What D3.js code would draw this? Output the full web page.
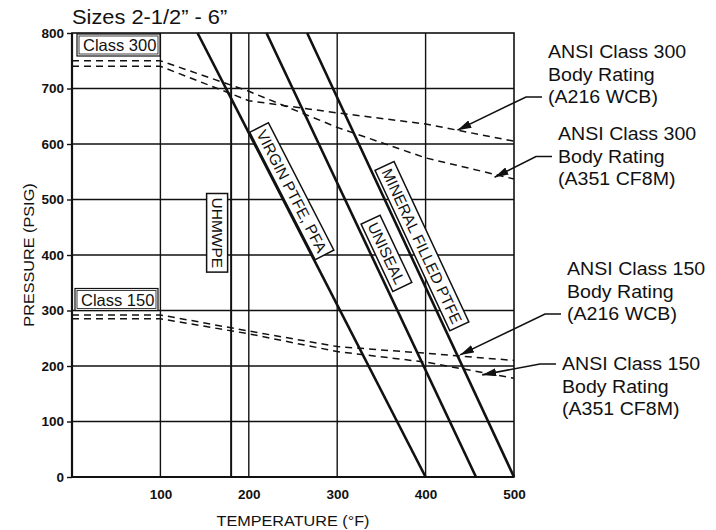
<!DOCTYPE html>
<html lang="en">
<head>
<meta charset="UTF-8">
<title>Sizes 2-1/2" - 6"</title>
<style>
  body { margin: 0; background: #fff; }
  svg { display: block; background: #fff; }
  text { font-family: "Liberation Sans", Arial, sans-serif; fill: #111; }
</style>
</head>
<body>
<div id="chart"></div>
<script src="https://cdn.jsdelivr.net/npm/d3@7/dist/d3.min.js"></script>
<script>
// temperature (°F) / pressure (psig)
var xTicks = [100, 200, 300, 400, 500];
var yTicks = [0, 100, 200, 300, 400, 500, 600, 700, 800];
var gridTemps = [100, 200, 300, 400];
var gridPress = [100, 200, 300, 400, 500, 600, 700];

// ANSI body ratings
var ratingTemps = [0, 100, 200, 300, 400, 500];
var class300WCB = [740, 740, 678, 656, 636, 605];
var class300CF8M = [750, 750, 695, 630, 575, 537];
var class150WCB = [292, 292, 263, 235, 223, 210];
var class150CF8M = [285, 285, 258, 226, 207, 178];

// seat ratings: temp at 800 psig -> temp at 0 psig
var seatNames = ["VIRGIN PTFE, PFA", "UNISEAL", "MINERAL FILLED PTFE"];
var seatTop = [142, 220, 266];
var seatBottom = [400, 457, 500];
var seatLabelPress = [515, 403, 416];
var uhmwpeTemp = 180;

// arrow tips [temp, psig]
var arrowTips = [[436, 625], [478, 540], [439, 220], [464, 184]];
var arrowTexts = [
    ["ANSI Class 300", "Body Rating", "(A216 WCB)"],
    ["ANSI Class 300", "Body Rating", "(A351 CF8M)"],
    ["ANSI Class 150", "Body Rating", "(A216 WCB)"],
    ["ANSI Class 150", "Body Rating", "(A351 CF8M)"]
];

var width = 716, height = 530;
var SX = 1.12; // scan lettering is a bit wide

var svg = d3.select('#chart').append('svg')
    .attr('width', width)
    .attr('height', height);

var x = d3.scaleLinear().domain([0, 500]).range([72, 514]);
var y = d3.scaleLinear().domain([0, 800]).range([477, 33]);

function label(g, px, py, str, size, opts) {
    opts = opts || {};
    return g.append('text')
        .attr('transform', 'translate(' + px + ',' + py + ')' + (opts.rot ? ' rotate(' + opts.rot + ')' : '') + ' scale(' + (opts.sx || SX) + ',1)')
        .attr('text-anchor', opts.anchor || 'start')
        .attr('font-size', size + 'px')
        .attr('font-weight', opts.weight || 'normal')
        .text(str);
}

svg.append('defs').append('marker')
    .attr('id', 'arrow')
    .attr('markerUnits', 'userSpaceOnUse')
    .attr('viewBox', '0 0 14 8')
    .attr('markerWidth', 14).attr('markerHeight', 8)
    .attr('refX', 14).attr('refY', 4)
    .attr('orient', 'auto')
    .append('path').attr('d', 'M0,0 L14,4 L0,8 Z').attr('fill', '#111');

// grid
svg.append('g').selectAll('line').data(gridTemps).enter().append('line')
    .attr('x1', d => x(d)).attr('x2', d => x(d))
    .attr('y1', y(0)).attr('y2', y(800))
    .attr('stroke', '#111').attr('stroke-width', 1.4);
svg.append('g').selectAll('line').data(gridPress).enter().append('line')
    .attr('x1', x(0)).attr('x2', x(500))
    .attr('y1', d => y(d)).attr('y2', d => y(d))
    .attr('stroke', '#111').attr('stroke-width', 1.4);
svg.append('rect')
    .attr('x', x(0)).attr('y', y(800))
    .attr('width', x(500) - x(0)).attr('height', y(0) - y(800))
    .attr('fill', 'none').attr('stroke', '#111').attr('stroke-width', 1.6);
svg.append('line').attr('x1', x(0)).attr('x2', x(0)).attr('y1', y(0)).attr('y2', y(800))
    .attr('stroke', '#111').attr('stroke-width', 2.2);
svg.append('line').attr('x1', x(0)).attr('x2', x(500)).attr('y1', y(0)).attr('y2', y(0))
    .attr('stroke', '#111').attr('stroke-width', 2.2);

// axes
var yAxisG = svg.append('g')
    .attr('transform', 'translate(' + x(0) + ',0)')
    .call(d3.axisLeft(y).tickValues(yTicks).tickSize(5).tickPadding(3));
var xAxisG = svg.append('g')
    .attr('transform', 'translate(0,' + y(0) + ')')
    .call(d3.axisBottom(x).tickValues(xTicks).tickSize(0).tickPadding(12));
[yAxisG, xAxisG].forEach(function(g) {
    g.select('.domain').remove();
    g.selectAll('.tick line').attr('stroke', '#111').attr('stroke-width', 1.4);
    g.selectAll('.tick text')
        .attr('fill', '#111')
        .attr('font-size', '13.5px')
        .attr('font-weight', 'bold')
        .attr('font-family', '"Liberation Sans", Arial, sans-serif');
});

// rating dashed lines
var line = d3.line().x(d => x(d[0])).y(d => y(d[1]));
[class300WCB, class300CF8M, class150WCB, class150CF8M].forEach(function(vals) {
    svg.append('path')
        .datum(ratingTemps.map((t, i) => [t, vals[i]]))
        .attr('d', line)
        .attr('fill', 'none')
        .attr('stroke', '#111')
        .attr('stroke-width', 1.5)
        .attr('stroke-dasharray', '7,5');
});

// seat lines
svg.append('line')
    .attr('x1', x(uhmwpeTemp)).attr('x2', x(uhmwpeTemp))
    .attr('y1', y(0)).attr('y2', y(800))
    .attr('stroke', '#111').attr('stroke-width', 2);
seatNames.forEach(function(name, i) {
    svg.append('line')
        .attr('x1', x(seatTop[i])).attr('y1', y(800))
        .attr('x2', x(seatBottom[i])).attr('y2', y(0))
        .attr('stroke', '#111').attr('stroke-width', 2.6);
});

// seat labels in boxes
function boxLabel(cx, cy, ang, str, size) {
    var g = svg.append('g').attr('transform', 'translate(' + cx + ',' + cy + ') rotate(' + ang + ')');
    var r = g.append('rect').attr('fill', '#fff').attr('stroke', '#111').attr('stroke-width', 1.5);
    var t = g.append('text')
        .attr('text-anchor', 'middle')
        .attr('dominant-baseline', 'central')
        .attr('font-size', size + 'px')
        .text(str);
    var w = t.node().getComputedTextLength();
    r.attr('x', -w / 2 - 4).attr('y', -10.5).attr('width', w + 8).attr('height', 21);
}
seatNames.forEach(function(name, i) {
    var p = seatLabelPress[i];
    var t = seatTop[i] + (800 - p) / 800 * (seatBottom[i] - seatTop[i]);
    var ang = Math.atan2(y(0) - y(800), x(seatBottom[i]) - x(seatTop[i])) * 180 / Math.PI;
    boxLabel(x(t) + [13, 16, 15.5][i], y(p), ang, name, 15.5);
});
boxLabel(x(uhmwpeTemp) - 14, y(440), 90, "UHMWPE", 15.5);

// class boxes
function classBox(px, py, str) {
    svg.append('rect').attr('x', px).attr('y', py).attr('width', 83).attr('height', 22)
        .attr('fill', '#fff').attr('stroke', '#111').attr('stroke-width', 1.2);
    svg.append('rect').attr('x', px + 2).attr('y', py + 2).attr('width', 79).attr('height', 18)
        .attr('fill', 'none').attr('stroke', '#111').attr('stroke-width', 0.8);
    label(svg, px + 6, py + 17, str, 16.5, {sx: 1});
}
classBox(x(0) + 5, y(800) + 1, "Class 300");
classBox(x(0) + 3, y(300) - 22, "Class 150");

// annotations
var annoPos = [[548, 58], [558, 140], [567, 275], [562, 370]];
var annoArm = [2, 1, 2, 0];
arrowTexts.forEach(function(lines, i) {
    var ax = annoPos[i][0], ay = annoPos[i][1];
    lines.forEach(function(s, j) {
        label(svg, ax, ay + j * 22.5, s, 17.5);
    });
    var ty = ay + annoArm[i] * 22.5 - 6;
    var tip = arrowTips[i];
    svg.append('path')
        .attr('d', 'M' + (ax - 6) + ',' + ty + ' L' + (ax - 22) + ',' + ty + ' L' + x(tip[0]) + ',' + y(tip[1]))
        .attr('fill', 'none')
        .attr('stroke', '#111')
        .attr('stroke-width', 1.6)
        .attr('marker-end', 'url(#arrow)');
});

// titles
label(svg, x(0), 24, 'Sizes 2-1/2\u201D - 6\u201D', 19.5);
label(svg, (x(0) + x(500)) / 2, 526, 'TEMPERATURE (\u00B0F)', 14.5, {anchor: 'middle'});
label(svg, 34, (y(0) + y(800)) / 2, 'PRESSURE (PSIG)', 14.5, {anchor: 'middle', rot: -90});
</script>
</body>
</html>
